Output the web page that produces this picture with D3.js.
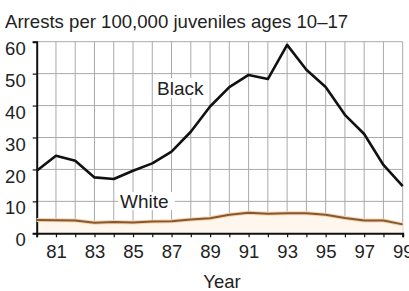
<!DOCTYPE html>
<html>
<head>
<meta charset="utf-8">
<script src="https://cdn.jsdelivr.net/npm/d3@7"></script>
<style>
  body { margin: 0; background: #fff; }
  text { font-family: Arial, "Liberation Sans", sans-serif; fill: #222; }
</style>
</head>
<body>
<svg id="chart" width="409" height="291"></svg>
<script>
'use strict';

var years = [1980, 1981, 1982, 1983, 1984, 1985, 1986, 1987, 1988, 1989,
  1990, 1991, 1992, 1993, 1994, 1995, 1996, 1997, 1998, 1999];
var black = [19.6, 24.3, 22.7, 17.5, 17.0, 19.6, 21.9, 25.6, 31.8, 39.7,
  45.8, 49.6, 48.3, 59.0, 51.2, 45.8, 37.1, 31.1, 21.4, 14.8];
var white = [4.2, 4.1, 4.0, 3.3, 3.5, 3.4, 3.7, 3.8, 4.3, 4.7,
  5.8, 6.4, 6.1, 6.3, 6.3, 5.8, 4.8, 4.0, 4.0, 2.8];
var yTicks = [0, 10, 20, 30, 40, 50, 60];
var xLabels = [1981, 1983, 1985, 1987, 1989, 1991, 1993, 1995, 1997, 1999];

var svg = d3.select('#chart');

var x = d3.scaleLinear().domain([1980, 1999]).range([36.7, 402.7]);
var y = d3.scaleLinear().domain([0, 60]).range([233.3, 41.7]);

// grid
var grid = svg.append('g').attr('stroke', '#aaa').attr('stroke-width', 1);
grid.selectAll('.vg').data(years.slice(1)).enter().append('line')
  .attr('x1', function (d) { return x(d); })
  .attr('x2', function (d) { return x(d); })
  .attr('y1', y(60)).attr('y2', y(0));
grid.selectAll('.hg').data(yTicks.slice(1)).enter().append('line')
  .attr('x1', x(1980)).attr('x2', x(1999))
  .attr('y1', function (d) { return y(d); })
  .attr('y2', function (d) { return y(d); });

// faint area under the white series
svg.append('path')
  .datum(white)
  .attr('fill', '#fff7ee')
  .attr('d', d3.area()
    .x(function (d, i) { return x(years[i]); })
    .y0(y(0))
    .y1(function (d) { return y(d); }));

// x axis
var xAxis = d3.axisBottom(x)
  .tickValues(years)
  .tickSize(4)
  .tickFormat(function (d) {
    return xLabels.indexOf(d) >= 0 ? d3.format('02')(d % 100) : '';
  });
var gx = svg.append('g').attr('transform', 'translate(0,' + y(0) + ')').call(xAxis);
gx.select('.domain').attr('stroke', '#111').attr('stroke-width', 2);
gx.selectAll('.tick line').attr('stroke', '#111').attr('stroke-width', 1.2);
gx.selectAll('.tick text')
  .attr('y', 12)
  .attr('dy', '0.71em')
  .attr('font-size', 18.5)
  .style('fill', '#222');

// y axis
var yAxis = d3.axisLeft(y).tickValues(yTicks).tickSize(4).tickFormat(d3.format('d'));
var gy = svg.append('g').attr('transform', 'translate(' + x(1980) + ',0)').call(yAxis);
gy.select('.domain').attr('stroke', '#111').attr('stroke-width', 2);
gy.selectAll('.tick line').attr('stroke', '#111').attr('stroke-width', 1.2);
gy.selectAll('.tick text')
  .attr('x', -11)
  .attr('dy', '0.68em')
  .attr('font-size', 18.5)
  .style('fill', '#222');
svg.selectAll('.tick text').attr('font-family', 'Arial, "Liberation Sans", sans-serif');

var line = d3.line()
  .x(function (d, i) { return x(years[i]); })
  .y(function (d) { return y(d); });

// white series: light orange halo with brown core
svg.append('path').datum(white)
  .attr('fill', 'none').attr('stroke', '#f6d2ab').attr('stroke-width', 4)
  .attr('stroke-linejoin', 'round').attr('d', line);
svg.append('path').datum(white)
  .attr('fill', 'none').attr('stroke', '#85582f').attr('stroke-width', 2)
  .attr('stroke-linejoin', 'round').attr('d', line);

// black series
svg.append('path').datum(black)
  .attr('fill', 'none').attr('stroke', '#111').attr('stroke-width', 2.6)
  .attr('stroke-linejoin', 'round').attr('d', line);

// labels
svg.append('rect').attr('x', 155).attr('y', 78).attr('width', 53).attr('height', 20).attr('fill', '#fff');
svg.append('text').attr('x', 157).attr('y', 95).attr('font-size', 19).text('Black');
svg.append('rect').attr('x', 118).attr('y', 192).attr('width', 57).attr('height', 18).attr('fill', '#fff');
svg.append('text').attr('x', 120).attr('y', 208).attr('font-size', 19).text('White');

svg.append('text').attr('x', 5).attr('y', 28).attr('font-size', 18.6)
  .text('Arrests per 100,000 juveniles ages 10\u201317');
svg.append('text').attr('x', 222).attr('y', 288).attr('font-size', 18.5)
  .attr('text-anchor', 'middle').text('Year');
</script>
</body>
</html>
